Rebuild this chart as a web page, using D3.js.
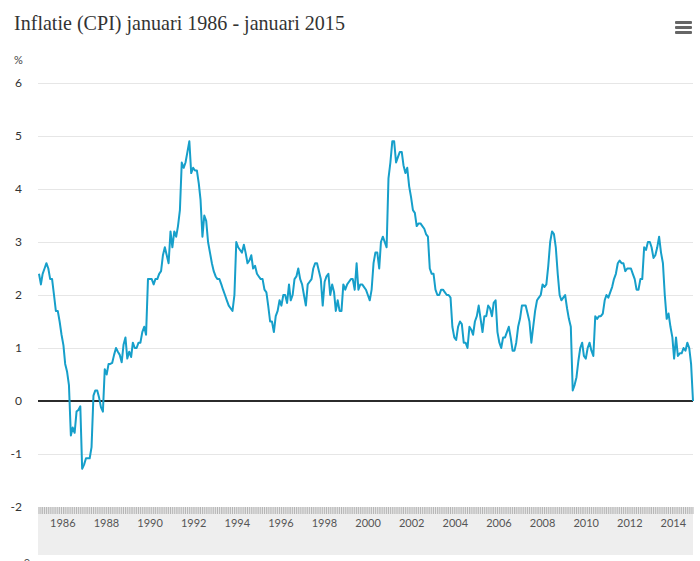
<!DOCTYPE html>
<html>
<head>
<meta charset="utf-8">
<script src="https://cdn.jsdelivr.net/npm/d3@7"></script>
<style>
  body { margin: 0; background: #fff; }
  svg { display: block; font-family: Lato, "Open Sans", sans-serif; }
</style>
</head>
<body>
<div id="chart"></div>
<script>
// chart text
const title = "Inflatie (CPI) januari 1986 - januari 2015";
const unitLabel = "%";

// y axis ticks (percent) and year labels of the navigator strip
const yTicks = [-2, -1, 0, 1, 2, 3, 4, 5, 6];
const yearLabels = [1986, 1988, 1990, 1992, 1994, 1996, 1998, 2000, 2002, 2004, 2006, 2008, 2010, 2012, 2014];

// monthly CPI inflation, % year on year, starting january 1986 (one row per year)
const startYear = 1986;
const inflation = [
  2.4, 2.2, 2.4, 2.5, 2.6, 2.5, 2.3, 2.3, 2.0, 1.7, 1.7, 1.5,          // 1986
  1.25, 1.05, 0.7, 0.55, 0.3, -0.65, -0.5, -0.6, -0.2, -0.17, -0.1, -1.28, // 1987
  -1.2, -1.08, -1.08, -1.08, -0.87, 0.1, 0.2, 0.2, 0.06, -0.12, -0.2, 0.6, // 1988
  0.5, 0.7, 0.7, 0.72, 0.87, 1.0, 0.93, 0.87, 0.73, 1.06, 1.2, 0.8,     // 1989
  0.93, 0.83, 1.1, 1.0, 1.0, 1.1, 1.1, 1.3, 1.4, 1.25, 2.3, 2.3,        // 1990
  2.3, 2.2, 2.3, 2.3, 2.4, 2.45, 2.75, 2.9, 2.75, 2.6, 3.2, 2.9,        // 1991
  3.2, 3.1, 3.3, 3.6, 4.5, 4.4, 4.5, 4.7, 4.9, 4.3, 4.4, 4.35,         // 1992
  4.35, 4.1, 3.8, 3.1, 3.5, 3.4, 3.0, 2.8, 2.6, 2.45, 2.35, 2.3,       // 1993
  2.3, 2.2, 2.1, 2.0, 1.9, 1.8, 1.75, 1.7, 2.0, 3.0, 2.9, 2.85,        // 1994
  2.8, 2.95, 2.8, 2.6, 2.65, 2.75, 2.5, 2.55, 2.4, 2.35, 2.3, 2.3,     // 1995
  2.1, 2.05, 1.8, 1.5, 1.5, 1.3, 1.6, 1.7, 1.9, 1.8, 2.0, 2.0,         // 1996
  1.85, 2.2, 1.9, 2.0, 2.3, 2.35, 2.5, 2.3, 2.2, 2.0, 1.8, 2.2,        // 1997
  2.25, 2.3, 2.5, 2.6, 2.6, 2.45, 2.3, 1.8, 2.25, 2.35, 2.4, 2.0,      // 1998
  2.2, 2.05, 1.7, 1.9, 1.7, 1.7, 2.2, 2.1, 2.2, 2.25, 2.3, 2.3,        // 1999
  2.1, 2.6, 2.1, 2.2, 2.2, 2.15, 2.1, 2.0, 1.9, 2.1, 2.6, 2.8,         // 2000
  2.8, 2.5, 3.0, 3.1, 3.0, 2.9, 4.2, 4.5, 4.9, 4.9, 4.5, 4.6,          // 2001
  4.7, 4.7, 4.45, 4.3, 4.4, 4.05, 3.85, 3.6, 3.55, 3.3, 3.35, 3.35,    // 2002
  3.3, 3.25, 3.15, 3.1, 2.5, 2.4, 2.4, 2.1, 2.0, 2.0, 2.1, 2.1,        // 2003
  2.05, 2.0, 2.0, 1.95, 1.4, 1.2, 1.15, 1.4, 1.5, 1.45, 1.1, 1.1,      // 2004
  1.0, 1.4, 1.35, 1.25, 1.5, 1.6, 1.8, 1.55, 1.3, 1.6, 1.6, 1.8,       // 2005
  1.75, 1.6, 1.85, 1.9, 1.3, 1.1, 1.0, 1.2, 1.2, 1.3, 1.4, 1.2,        // 2006
  0.95, 0.95, 1.1, 1.4, 1.55, 1.8, 1.8, 1.8, 1.65, 1.5, 1.1, 1.4,      // 2007
  1.7, 1.9, 1.95, 2.0, 2.2, 2.15, 2.2, 2.55, 3.0, 3.2, 3.15, 2.9,      // 2008
  2.4, 2.0, 1.9, 1.95, 2.0, 1.75, 1.55, 1.4, 0.2, 0.3, 0.45, 0.75,     // 2009
  1.0, 1.1, 0.85, 0.8, 1.0, 1.1, 0.95, 0.85, 1.6, 1.55, 1.6, 1.6,      // 2010
  1.65, 1.9, 2.0, 1.95, 2.05, 2.15, 2.3, 2.4, 2.6, 2.65, 2.6, 2.6,     // 2011
  2.45, 2.5, 2.5, 2.5, 2.4, 2.3, 2.1, 2.1, 2.3, 2.3, 2.9, 2.85,        // 2012
  3.0, 3.0, 2.9, 2.7, 2.75, 2.9, 3.1, 2.8, 2.6, 2.0, 1.55, 1.65,       // 2013
  1.4, 1.2, 0.8, 1.2, 0.85, 0.9, 0.9, 1.0, 0.95, 1.1, 1.0, 0.7,        // 2014
  0.0                                                                  // 2015
];

const width = 700, height = 561;
const plotLeft = 38, plotRight = 693, plotTop = 83, plotBottom = 507;

const data = inflation.map((v, i) => ({date: new Date(startYear, i, 1), value: v}));

const x = d3.scaleTime()
    .domain(d3.extent(data, d => d.date))
    .range([plotLeft + 1, plotRight]);

const y = d3.scaleLinear()
    .domain([-2, 6])
    .range([plotBottom, plotTop]);

// the navigator strip below the plot uses its own year scale
const navX = d3.scaleLinear()
    .domain([1984.86, 2014.9])
    .range([plotLeft, plotRight]);

const svg = d3.select("#chart")
  .append("svg")
    .attr("width", width)
    .attr("height", height);

// title
const titleText = svg.append("text")
    .attr("x", 14)
    .attr("y", 30)
    .attr("fill", "#333")
    .style("font-family", "'Liberation Serif', serif")
    .style("font-size", "20px")
    .text(title);
// squeeze the font size so the title spans roughly the same width as the original
const tw = titleText.node().getComputedTextLength();
titleText.style("font-size", (20 * 331 / tw).toFixed(2) + "px");

// hamburger menu icon
svg.append("g")
    .attr("fill", "#666")
  .selectAll("rect")
  .data([0, 1, 2])
  .join("rect")
    .attr("x", 675)
    .attr("y", i => 21 + i * 5)
    .attr("width", 17)
    .attr("height", 3)
    .attr("rx", 1);

// unit label
svg.append("text")
    .attr("x", 14)
    .attr("y", 64)
    .attr("fill", "#444")
    .style("font-size", "11px")
    .text(unitLabel);

// horizontal gridlines
svg.append("g")
    .attr("stroke", "#e6e6e6")
    .attr("stroke-width", 1)
  .selectAll("line")
  .data(yTicks.filter(t => t !== 0 && t !== -2))
  .join("line")
    .attr("x1", plotLeft)
    .attr("x2", plotRight)
    .attr("y1", d => Math.round(y(d)) + 0.5)
    .attr("y2", d => Math.round(y(d)) + 0.5);

// y tick labels
svg.append("g")
    .attr("fill", "#333")
    .attr("text-anchor", "end")
    .style("font-size", "12px")
  .selectAll("text")
  .data(yTicks)
  .join("text")
    .attr("x", 22)
    .attr("y", d => y(d) + 4)
    .text(d => d);

// navigator strip
svg.append("rect")
    .attr("x", plotLeft)
    .attr("y", plotBottom)
    .attr("width", plotRight - plotLeft)
    .attr("height", 48)
    .attr("fill", "#eeeeee");

svg.append("g")
    .attr("stroke", "#b4b4b4")
    .attr("stroke-width", 1)
  .selectAll("line")
  .data(data)
  .join("line")
    .attr("x1", d => x(d.date))
    .attr("x2", d => x(d.date))
    .attr("y1", plotBottom)
    .attr("y2", plotBottom + 7);

svg.append("g")
    .attr("fill", "#555")
    .attr("text-anchor", "middle")
    .style("font-size", "11px")
  .selectAll("text")
  .data(yearLabels)
  .join("text")
    .attr("x", d => navX(d))
    .attr("y", 527)
    .text(d => d);

// clipped label at the bottom edge
svg.append("text")
    .attr("x", 27)
    .attr("y", 567)
    .attr("fill", "#555")
    .attr("text-anchor", "middle")
    .style("font-size", "11px")
    .text("0");

// zero line
svg.append("line")
    .attr("x1", plotLeft)
    .attr("x2", plotRight)
    .attr("y1", y(0))
    .attr("y2", y(0))
    .attr("stroke", "#2b2b2b")
    .attr("stroke-width", 2);

// the series
const line = d3.line()
    .x(d => x(d.date))
    .y(d => y(d.value));

svg.append("path")
    .datum(data)
    .attr("fill", "none")
    .attr("stroke", "#169fca")
    .attr("stroke-width", 2)
    .attr("stroke-linejoin", "round")
    .attr("d", line);
</script>
</body>
</html>
